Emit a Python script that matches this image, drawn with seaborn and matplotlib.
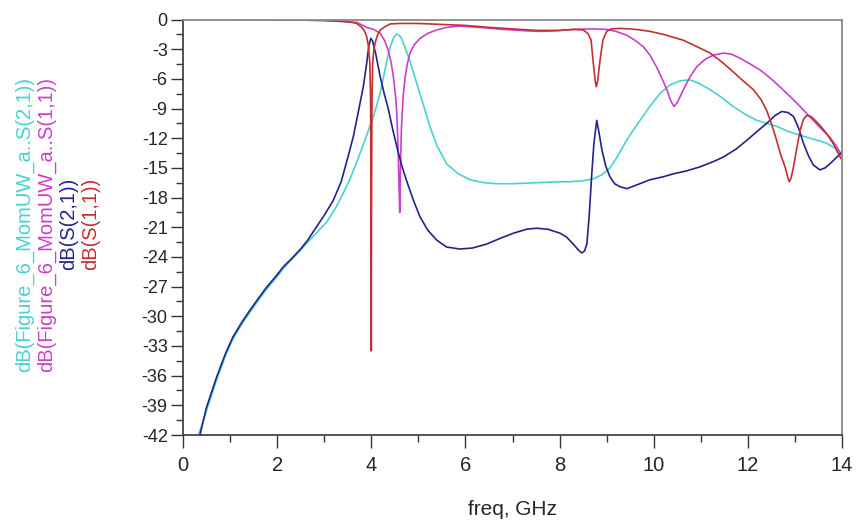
import numpy as np
import pandas as pd
import matplotlib
matplotlib.use("Agg")
import matplotlib.pyplot as plt
from matplotlib.ticker import MultipleLocator
import seaborn as sns

# trace names, as shown on the left
trace_names = [
    "dB(Figure_6_MomUW_a..S(2,1))",
    "dB(Figure_6_MomUW_a..S(1,1))",
    "dB(S(2,1))",
    "dB(S(1,1))",
]
trace_colors = ["#45d3d3", "#cc3fcc", "#23238c", "#c62f2f"]

# momentum S21 (cyan)
mom_s21_f = [0.33, 0.5, 0.71, 0.9, 1.06, 1.25, 1.42, 1.6, 1.77, 2.0, 2.13, 2.3, 2.48, 2.69,
             2.85, 3.05, 3.25, 3.4, 3.54, 3.7, 3.85, 3.97, 4.04, 4.12, 4.19, 4.26, 4.33, 4.4,
             4.47, 4.53, 4.57, 4.63, 4.7, 4.76, 4.82, 4.93, 5.04, 5.15, 5.25, 5.4, 5.6, 5.85,
             6.1, 6.4, 6.66, 7.0, 7.51, 8.0, 8.22, 8.5, 8.72, 8.9, 9.07, 9.21, 9.4, 9.55, 9.71,
             9.9, 10.13, 10.35, 10.56, 10.77, 10.98, 11.2, 11.45, 11.69, 11.95, 12.19, 12.4,
             12.61, 12.85, 13.11, 13.4, 13.67, 13.85, 14.0]
mom_s21_db = [-42.0, -39.5, -36.5, -34.0, -32.3, -30.8, -29.6, -28.4, -27.3, -26.0, -25.2, -24.3,
              -23.4, -22.3, -21.5, -20.5, -19.0, -17.6, -16.2, -14.3, -12.4, -10.8, -9.9, -8.6,
              -7.4, -5.8, -4.2, -2.8, -1.9, -1.5, -1.5, -1.8, -2.6, -3.4, -4.2, -5.9, -7.6, -9.3,
              -10.9, -12.8, -14.6, -15.6, -16.2, -16.5, -16.6, -16.6, -16.5, -16.4, -16.4, -16.3,
              -16.1, -15.7, -15.0, -14.0, -12.4, -11.3, -10.2, -8.9, -7.5, -6.6, -6.2, -6.1, -6.5,
              -7.1, -7.9, -8.8, -9.6, -10.2, -10.5, -10.8, -11.3, -11.7, -12.1, -12.5, -13.0, -13.6]

# momentum S11 (magenta)
mom_s11_f = [0.0, 1.0, 2.0, 3.0, 3.4, 3.7, 3.9, 4.05, 4.19, 4.28, 4.36, 4.42, 4.47, 4.51, 4.54,
             4.57, 4.59, 4.605, 4.62, 4.64, 4.68, 4.72, 4.77, 4.82, 4.92, 5.04, 5.2, 5.39, 5.6,
             5.88, 6.3, 6.8, 7.3, 7.6, 7.9, 8.3, 8.7, 9.0, 9.2, 9.43, 9.6, 9.78, 9.92, 10.06,
             10.18, 10.28, 10.36, 10.43, 10.5, 10.56, 10.63, 10.77, 10.91, 11.1, 11.27, 11.48,
             11.65, 11.83, 12.05, 12.26, 12.47, 12.68, 12.9, 13.11, 13.25, 13.39, 13.55, 13.74,
             13.88, 14.0]
mom_s11_db = [0.0, 0.0, -0.02, -0.1, -0.2, -0.3, -0.8, -1.0, -1.4, -2.1, -3.1, -4.3, -5.8, -7.5,
              -9.2, -13.2, -17.0, -19.5, -15.0, -11.0, -7.6, -5.8, -4.4, -3.4, -2.5, -1.9, -1.4,
              -1.06, -0.8, -0.66, -0.8, -1.0, -1.15, -1.2, -1.15, -1.0, -0.95, -1.0, -1.2, -1.6,
              -2.1, -2.75, -3.6, -4.8, -6.0, -7.1, -8.2, -8.8, -8.4, -7.8, -7.1, -5.8, -4.8, -4.0,
              -3.6, -3.4, -3.5, -3.9, -4.5, -5.1, -5.9, -6.8, -7.8, -8.8, -9.5, -10.2, -11.0,
              -11.9, -12.8, -13.8]

# circuit S21 (navy)
s21_f = [0.36, 0.5, 0.71, 0.9, 1.06, 1.25, 1.42, 1.6, 1.77, 2.0, 2.13, 2.3, 2.48, 2.65, 2.83,
         3.0, 3.19, 3.36, 3.51, 3.62, 3.73, 3.83, 3.9, 3.95, 3.99, 4.03, 4.1, 4.19, 4.28, 4.36,
         4.45, 4.55, 4.65, 4.75, 4.89, 5.03, 5.2, 5.39, 5.6, 5.88, 6.15, 6.45, 6.75, 7.02, 7.3,
         7.51, 7.75, 8.01, 8.15, 8.29, 8.4, 8.47, 8.53, 8.58, 8.63, 8.68, 8.73, 8.79, 8.84, 8.9,
         8.98, 9.07, 9.17, 9.28, 9.43, 9.65, 9.92, 10.2, 10.42, 10.7, 10.98, 11.25, 11.48,
         11.75, 11.98, 12.2, 12.4, 12.58, 12.72, 12.85, 12.97, 13.08, 13.18, 13.29, 13.39,
         13.53, 13.64, 13.74, 13.85, 14.0]
s21_db = [-42.0, -39.2, -36.2, -33.8, -32.1, -30.6, -29.4, -28.2, -27.1, -25.8, -25.0, -24.2,
          -23.3, -22.3, -21.0, -19.8, -18.3, -16.4, -13.8, -11.8, -9.2, -6.8, -4.5, -2.6, -1.9,
          -2.2, -3.6, -5.8, -7.6, -9.0, -11.0, -13.0, -14.8, -16.3, -18.2, -19.9, -21.3, -22.3,
          -23.0, -23.2, -23.1, -22.7, -22.1, -21.6, -21.2, -21.1, -21.2, -21.6, -22.0, -22.7,
          -23.3, -23.6, -23.4, -22.7, -19.8, -15.9, -12.5, -10.2, -11.5, -13.2, -14.8, -15.9,
          -16.6, -16.9, -17.1, -16.7, -16.2, -15.9, -15.6, -15.3, -14.9, -14.4, -13.9, -13.1,
          -12.2, -11.3, -10.5, -9.7, -9.3, -9.4, -9.8, -11.0, -12.5, -13.8, -14.7, -15.2,
          -15.0, -14.6, -14.1, -13.4]

# circuit S11 (red)
s11_f = [0.0, 1.0, 2.0, 3.0, 3.4, 3.6, 3.69, 3.8, 3.86, 3.9, 3.94, 3.97, 3.985, 3.995, 4.0,
         4.005, 4.015, 4.03, 4.05, 4.08, 4.13, 4.19, 4.3, 4.4, 4.6, 5.0, 5.5, 6.0, 6.5, 7.0,
         7.5, 8.0, 8.3, 8.5, 8.6, 8.67, 8.71, 8.76, 8.78, 8.81, 8.86, 8.92, 9.0, 9.1, 9.28,
         9.5, 9.7, 9.92, 10.2, 10.42, 10.63, 10.9, 11.2, 11.45, 11.69, 11.9, 12.12, 12.28,
         12.4, 12.5, 12.61, 12.7, 12.79, 12.85, 12.88, 12.92, 12.97, 13.04, 13.11, 13.18,
         13.25, 13.34, 13.43, 13.55, 13.67, 13.82, 13.96, 14.0]
s11_db = [0.0, 0.0, -0.02, -0.1, -0.2, -0.3, -0.4, -0.8, -1.2, -1.7, -2.7, -4.5, -8.0, -18.0,
          -33.5, -18.0, -8.0, -4.5, -3.2, -2.4, -1.6, -1.06, -0.7, -0.45, -0.4, -0.4, -0.5,
          -0.6, -0.8, -0.95, -1.1, -1.1, -1.0, -1.05, -1.4, -2.1, -4.1, -6.3, -6.8, -6.2, -4.1,
          -2.1, -1.2, -0.95, -0.9, -0.95, -1.05, -1.2, -1.5, -1.8, -2.1, -2.7, -3.4, -4.3, -5.3,
          -6.2, -7.1, -8.1, -9.2, -10.5, -12.2, -13.7, -14.9, -16.0, -16.4, -16.0, -14.9, -13.0,
          -11.2, -10.1, -9.7, -9.8, -10.2, -10.8, -11.5, -12.6, -13.9, -14.2]

frames = []
for name, f, db in zip(trace_names,
                       [mom_s21_f, mom_s11_f, s21_f, s11_f],
                       [mom_s21_db, mom_s11_db, s21_db, s11_db]):
    frames.append(pd.DataFrame({"freq": f, "dB": db, "trace": name}))
data = pd.concat(frames, ignore_index=True)

sns.set_style("ticks")
plt.rcParams["font.family"] = ["Liberation Sans", "DejaVu Sans"]
plt.rcParams["axes.unicode_minus"] = False

fig = plt.figure(figsize=(8.56, 5.23), dpi=100)
ax = fig.add_axes([183 / 856, 1 - 435 / 523, (842 - 183) / 856, (435 - 19.5) / 523])

sns.lineplot(data=data, x="freq", y="dB", hue="trace", hue_order=trace_names,
             palette=dict(zip(trace_names, trace_colors)), estimator=None, sort=False,
             legend=False, linewidth=1.2, ax=ax)

ax.set_xlim(0, 14)
ax.set_ylim(-42, 0)
ax.xaxis.set_major_locator(MultipleLocator(2))
ax.xaxis.set_minor_locator(MultipleLocator(1))
ax.yaxis.set_major_locator(MultipleLocator(3))
ax.yaxis.set_minor_locator(MultipleLocator(1.5))
ax.tick_params(axis="both", which="major", direction="out", length=9, width=1.0,
               color="#333333", pad=2)
ax.tick_params(axis="both", which="minor", direction="out", length=5, width=1.0,
               color="#333333")
ax.tick_params(axis="x", labelsize=14.5, pad=6)
ax.tick_params(axis="y", labelsize=13)

for side in ["left", "bottom"]:
    ax.spines[side].set_color("#444444")
    ax.spines[side].set_linewidth(1.3)
for side in ["top", "right"]:
    ax.spines[side].set_visible(True)
    ax.spines[side].set_color("#8a8a8a")
    ax.spines[side].set_linewidth(1.3)

ax.set_xlabel("freq, GHz", fontsize=15, labelpad=18)
ax.set_ylabel("")

# stacked coloured trace labels on the left
label_x = [25, 47, 69, 91]
for name, color, xp in zip(trace_names, trace_colors, label_x):
    fig.text(xp / 856, 1 - 224 / 523, name, rotation=90, color=color,
             fontsize=14.5, ha="center", va="center")

fig.savefig("out.png", dpi=100)
